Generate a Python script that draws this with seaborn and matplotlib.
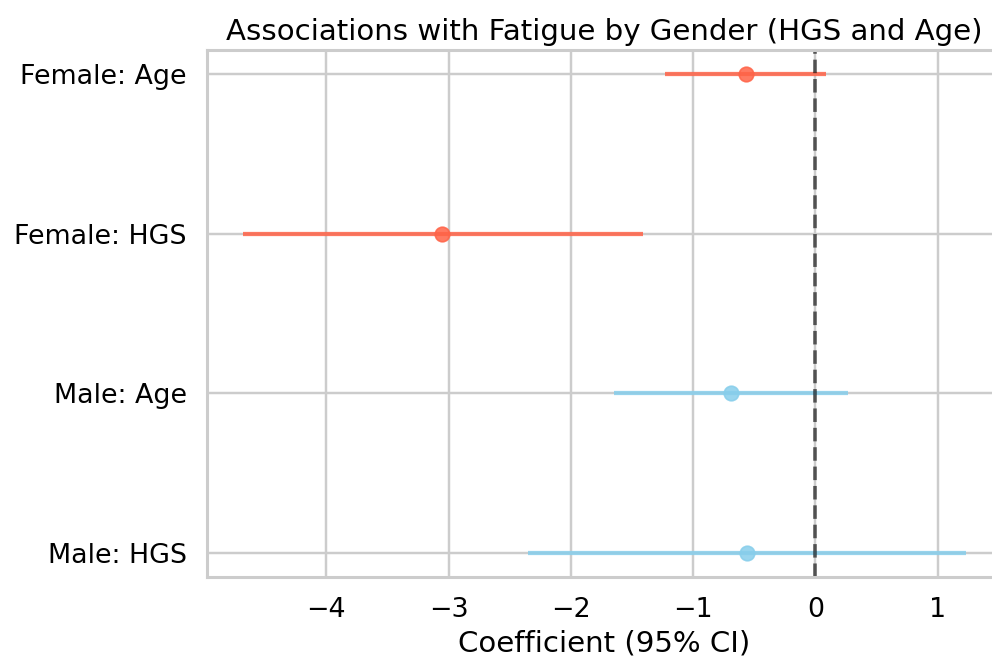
import matplotlib
matplotlib.use("Agg")
import matplotlib.pyplot as plt
import seaborn as sns

# Coefficients and 95% CI
labels = ["Male: HGS", "Male: Age", "Female: HGS", "Female: Age"]
coef = [-0.56, -0.69, -3.05, -0.57]
ci_low = [-2.35, -1.65, -4.68, -1.23]
ci_high = [1.23, 0.27, -1.41, 0.09]
gender = ["Male", "Male", "Female", "Female"]

colors = {"Male": "skyblue", "Female": "tomato"}

sns.set_theme(style="whitegrid", context="talk")
plt.rcParams.update({"text.color": "black", "axes.labelcolor": "black",
                     "xtick.color": "black", "ytick.color": "black"})

DPI = 117
fig, ax = plt.subplots(figsize=(992 / DPI, 668 / DPI), dpi=DPI)

for lab, c, lo, hi, g in zip(labels, coef, ci_low, ci_high, gender):
    ax.errorbar(c, lab, xerr=[[c - lo], [hi - c]], fmt="o", color=colors[g],
                ecolor=colors[g], elinewidth=2.6, markersize=9, alpha=0.85)

ax.axvline(0, color="black", linestyle="--", linewidth=2.25, alpha=0.6)

ax.set_title("Associations with Fatigue by Gender (HGS and Age)")
ax.set_xlabel("Coefficient (95% CI)")
ax.set_ylabel("")

fig.subplots_adjust(left=207 / 992, right=1002 / 992, top=1 - 50 / 668, bottom=1 - 577 / 668)
fig.savefig("out.png", dpi=DPI)
